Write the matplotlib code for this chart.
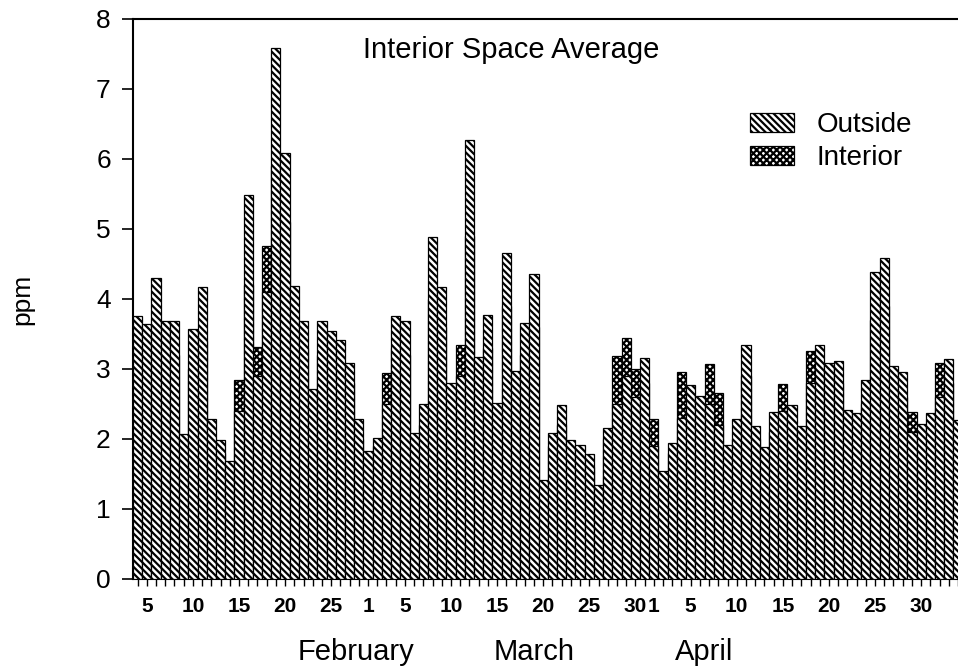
import matplotlib
matplotlib.use('Agg')
import matplotlib.pyplot as plt
import numpy as np
import pandas as pd

# daily values, Feb 4 .. May 4
outside = [3.76, 3.65, 4.30, 3.68, 3.68, 2.07, 3.57, 4.17, 2.29, 1.98,
           1.69, 2.40, 5.49, 2.90, 4.10, 7.58, 6.08, 4.18, 3.68, 2.71,
           3.68, 3.55, 3.42, 3.08, 2.29, 1.83, 2.01, 2.50, 3.76, 3.68,
           2.09, 2.50, 4.88, 4.17, 2.80, 2.90, 6.27, 3.17, 3.77, 2.52,
           4.66, 2.97, 3.66, 4.36, 1.42, 2.08, 2.48, 1.98, 1.91, 1.79,
           1.35, 2.16, 2.50, 2.90, 2.60, 3.16, 1.90, 1.54, 1.95, 2.30,
           2.77, 2.61, 2.50, 2.20, 1.92, 2.28, 3.35, 2.18, 1.88, 2.39,
           2.40, 2.48, 2.18, 2.80, 3.35, 3.08, 3.11, 2.42, 2.37, 2.84,
           4.38, 4.58, 3.05, 2.96, 2.10, 2.21, 2.37, 2.60, 3.15, 2.27]
interior = [3.20, 3.10, 3.50, 3.30, 3.20, 1.90, 3.00, 3.40, 2.00, 1.80,
            1.50, 2.85, 4.20, 3.32, 4.76, 5.90, 5.10, 3.70, 3.30, 2.40,
            3.20, 3.10, 3.00, 2.80, 2.00, 1.70, 1.90, 2.95, 3.30, 3.20,
            1.90, 2.20, 4.00, 3.60, 2.50, 3.34, 4.90, 2.90, 3.30, 2.30,
            3.90, 2.70, 3.20, 3.60, 1.30, 1.90, 2.20, 1.80, 1.70, 1.60,
            1.20, 2.00, 3.19, 3.45, 3.00, 2.80, 2.29, 1.40, 1.80, 2.96,
            2.50, 2.30, 3.07, 2.66, 1.80, 2.00, 2.90, 2.00, 1.70, 2.10,
            2.79, 2.20, 2.00, 3.26, 3.00, 2.80, 2.80, 2.20, 2.10, 2.50,
            3.70, 3.90, 2.70, 2.60, 2.39, 2.00, 2.10, 3.09, 2.80, 2.00]
dates = pd.date_range('1987-02-04', periods=len(outside), freq='D')
months = ['February', 'March', 'April']

plt.rcParams['font.family'] = ['Liberation Sans', 'DejaVu Sans']
plt.rcParams['hatch.linewidth'] = 1.6

fig = plt.figure(figsize=(9.58, 6.70), dpi=100)
ax = fig.add_axes([133/958, 91/670, 1 - 133/958, 560/670])

x = np.arange(len(dates))
ib = ax.bar(x, interior, width=1.0, color='white', edgecolor='black',
            hatch='xxxxx', linewidth=0.9, zorder=2, label='Interior')
ob = ax.bar(x, outside, width=1.0, color='white', edgecolor='black',
            hatch='\\\\\\\\\\', linewidth=0.9, zorder=3, label='Outside')

ax.set_xlim(-0.5, 89.0)
ax.set_ylim(0, 8)
ax.set_yticks(range(0, 9))
ax.tick_params(axis='y', length=8, width=1.2, pad=8, labelsize=19)

# label every 5th day plus the first of the month (no May labels)
lab = [(i, str(d.day)) for i, d in enumerate(dates)
       if (d.day % 5 == 0 or d.day == 1) and d.month < 5]
ax.set_xticks([i for i, _ in lab])
ax.set_xticklabels([s for _, s in lab], family=['Liberation Sans Narrow', 'Liberation Sans'],
                   fontweight='bold', fontsize=15)
ax.set_xticks(x, minor=True)
ax.tick_params(axis='x', which='both', length=5.3, width=1.0, pad=8)

for s in ['left', 'bottom', 'top']:
    ax.spines[s].set_linewidth(1.5)
ax.spines['right'].set_visible(False)

ax.set_ylabel('ppm', fontsize=19)
ax.yaxis.set_label_coords(-0.12, 0.5)

fig.text(363/958, 1 - 58/670, 'Interior Space Average', fontsize=21, va='baseline')
for name, px in zip(months, [356, 534, 704]):
    fig.text(px/958, 1 - 660/670, name, fontsize=21, ha='center', va='baseline')

ax.legend(handles=[ob, ib], loc='upper left', bbox_to_anchor=(750/958, 1 - 112/670),
          bbox_transform=fig.transFigure, frameon=False, fontsize=20,
          handlelength=1.6, handleheight=0.7, handletextpad=0.8,
          labelspacing=0.25, borderpad=0, borderaxespad=0)

fig.savefig('out.png', dpi=100)
